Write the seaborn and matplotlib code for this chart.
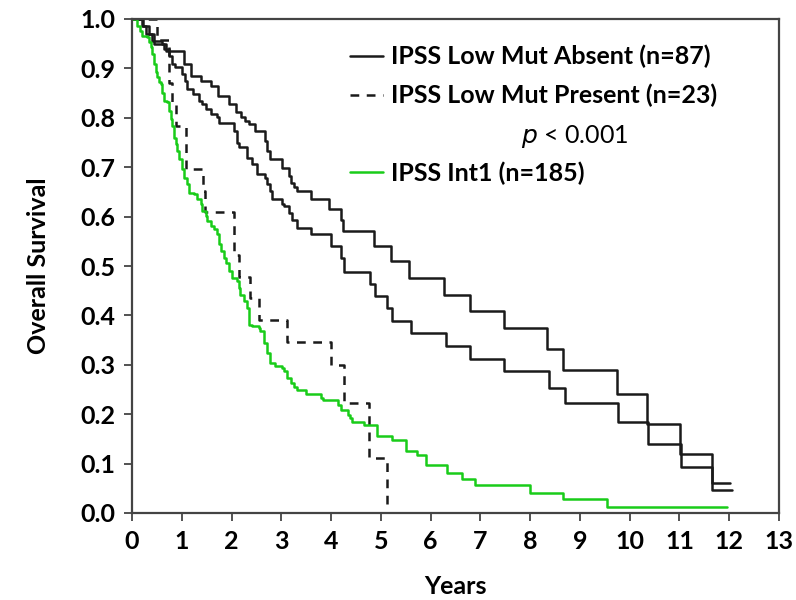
import matplotlib
matplotlib.use("Agg")
import matplotlib.pyplot as plt
import seaborn as sns
from matplotlib.lines import Line2D

# Kaplan-Meier steps: (years, survival)
absent_t = [0, 0.22, 0.28, 0.40, 0.45, 0.68, 1.04, 1.18, 1.38, 1.58, 1.72, 1.95, 2.08, 2.19,
            2.27, 2.35, 2.48, 2.68, 2.72, 2.78, 3.02, 3.15, 3.19, 3.25, 3.32, 3.59, 3.96, 4.19,
            4.23, 4.86, 5.20, 5.56, 6.26, 6.80, 7.47, 8.34, 8.67, 9.74, 10.35, 11.01, 11.65, 12.02]
absent_s = [1.0, 0.985, 0.97, 0.955, 0.949, 0.936, 0.909, 0.885, 0.875, 0.865, 0.844, 0.828, 0.811, 0.801,
            0.794, 0.787, 0.773, 0.753, 0.733, 0.716, 0.699, 0.682, 0.669, 0.660, 0.652, 0.635, 0.615, 0.594,
            0.571, 0.540, 0.510, 0.476, 0.442, 0.408, 0.375, 0.331, 0.290, 0.241, 0.181, 0.120, 0.060, 0.060]

# second solid black curve (no legend entry in the original)
other_t = [0, 0.20, 0.35, 0.45, 0.60, 0.64, 0.74, 0.81, 0.87, 1.00, 1.07, 1.11, 1.22, 1.34, 1.41,
           1.48, 1.58, 1.71, 1.74, 2.05, 2.11, 2.15, 2.31, 2.41, 2.52, 2.68, 2.71, 2.78, 2.81, 3.02,
           3.06, 3.15, 3.22, 3.32, 3.59, 3.99, 4.19, 4.25, 4.79, 4.89, 5.12, 5.23, 5.60, 6.30, 6.80,
           7.47, 8.37, 8.71, 9.76, 10.37, 11.03, 11.66, 12.06]
other_s = [1.0, 0.985, 0.97, 0.955, 0.949, 0.939, 0.926, 0.909, 0.902, 0.889, 0.875, 0.858, 0.848, 0.834, 0.828,
           0.817, 0.807, 0.801, 0.790, 0.773, 0.750, 0.740, 0.719, 0.706, 0.686, 0.679, 0.665, 0.652, 0.636, 0.625,
           0.621, 0.608, 0.594, 0.577, 0.564, 0.540, 0.517, 0.488, 0.464, 0.439, 0.415, 0.388, 0.364, 0.339, 0.312,
           0.287, 0.254, 0.222, 0.185, 0.139, 0.094, 0.047, 0.047]

present_t = [0, 0.50, 0.74, 0.80, 0.88, 1.08, 1.43, 1.47, 2.05, 2.15, 2.37, 2.55, 3.12, 3.99, 4.26, 4.76, 5.12]
present_s = [1.0, 0.957, 0.870, 0.826, 0.783, 0.696, 0.652, 0.609, 0.522, 0.478, 0.435, 0.391, 0.347, 0.299,
             0.222, 0.111, 0.0]

int1_t = [0, 0.04, 0.11, 0.17, 0.21, 0.31, 0.34, 0.375, 0.41, 0.44, 0.475, 0.51, 0.54, 0.575, 0.61, 0.64,
          0.71, 0.74, 0.78, 0.81, 0.84, 0.88, 0.91, 0.94, 1.01, 1.04, 1.11, 1.14, 1.24, 1.31, 1.38, 1.41,
          1.48, 1.51, 1.58, 1.64, 1.71, 1.75, 1.78, 1.85, 1.88, 1.95, 2.01, 2.11, 2.15, 2.18, 2.25, 2.31,
          2.35, 2.41, 2.55, 2.58, 2.65, 2.71, 2.78, 2.88, 3.02, 3.06, 3.12, 3.19, 3.26, 3.32, 3.49, 3.79,
          3.83, 4.13, 4.19, 4.33, 4.39, 4.43, 4.66, 4.93, 5.23, 5.50, 5.73, 5.90, 6.33, 6.63, 6.90, 8.00,
          8.67, 9.54, 11.95]
int1_s = [1.0, 1.0, 0.986, 0.976, 0.966, 0.963, 0.953, 0.943, 0.929, 0.909, 0.892, 0.882, 0.872, 0.868, 0.851, 0.834,
          0.831, 0.814, 0.797, 0.784, 0.760, 0.746, 0.733, 0.716, 0.696, 0.679, 0.665, 0.648, 0.645, 0.635, 0.625, 0.611,
          0.601, 0.591, 0.581, 0.574, 0.564, 0.544, 0.530, 0.517, 0.506, 0.489, 0.476, 0.469, 0.456, 0.442, 0.429, 0.415,
          0.381, 0.378, 0.375, 0.368, 0.344, 0.324, 0.304, 0.297, 0.294, 0.287, 0.273, 0.263, 0.256, 0.249, 0.241, 0.233,
          0.228, 0.219, 0.209, 0.199, 0.192, 0.185, 0.179, 0.156, 0.147, 0.126, 0.118, 0.097, 0.081, 0.068, 0.057, 0.041,
          0.028, 0.013, 0.013]

labels = ["IPSS Low Mut Absent (n=87)", "IPSS Low Mut Present (n=23)", "IPSS Int1 (n=185)"]
green = "#19cc19"
black = "#1a1a1a"
dash = (0, (3.5, 3.0))

sns.set_style("white")
plt.rcParams["font.family"] = ["Lato", "DejaVu Sans"]
plt.rcParams["text.color"] = "black"
plt.rcParams["axes.labelcolor"] = "black"
plt.rcParams["xtick.labelcolor"] = "black"
plt.rcParams["ytick.labelcolor"] = "black"

fig = plt.figure(figsize=(7.96, 6.0), dpi=100)
ax = fig.add_axes([132 / 796, 1 - 513 / 600, (779 - 132) / 796, (513 - 19) / 600])

kw = dict(drawstyle="steps-post", estimator=None, sort=False, linewidth=1.8, ax=ax, legend=False)
sns.lineplot(x=absent_t, y=absent_s, color=black, **kw)
sns.lineplot(x=other_t, y=other_s, color=black, **kw)
sns.lineplot(x=present_t, y=present_s, color=black, linestyle=dash, **kw)
sns.lineplot(x=int1_t, y=int1_s, color=green, **kw)

ax.set_xlim(0, 13)
ax.set_ylim(0, 1.0)
ax.set_xticks(range(0, 14))
ax.set_yticks([i / 10 for i in range(11)])
ax.set_yticklabels([f"{i / 10:.1f}" for i in range(11)])
ax.tick_params(axis="both", direction="out", length=6, width=1.3, color="#444444",
               labelsize=18, pad=6, bottom=True, left=True)
for lab in ax.get_xticklabels() + ax.get_yticklabels():
    lab.set_fontweight("bold")
for sp in ax.spines.values():
    sp.set_color("#444444")
    sp.set_linewidth(1.6)

ax.set_xlabel("Years", fontsize=18, fontweight="bold", labelpad=16)
ax.set_ylabel("Overall Survival", fontsize=18, fontweight="bold", labelpad=22)

handles = [Line2D([], [], color=black, lw=1.8),
           Line2D([], [], color=black, lw=1.8, linestyle=dash),
           Line2D([], [], color="none"),
           Line2D([], [], color=green, lw=1.8)]
leg = ax.legend(handles, [labels[0], labels[1], "I", labels[2]], loc="upper left",
                bbox_to_anchor=((350 - 132) / 647, (513 - 45) / 494), frameon=False,
                borderpad=0, borderaxespad=0, handlelength=1.3, handletextpad=0.35,
                labelspacing=0.62, prop={"size": 18, "weight": "bold"})
leg.get_texts()[2].set_alpha(0)
ax.text((575 - 132) / 647, (513 - 137) / 494, "$\\it{p}$ < 0.001", transform=ax.transAxes,
        ha="center", va="center", fontsize=18)

fig.savefig("out.png", dpi=100)
